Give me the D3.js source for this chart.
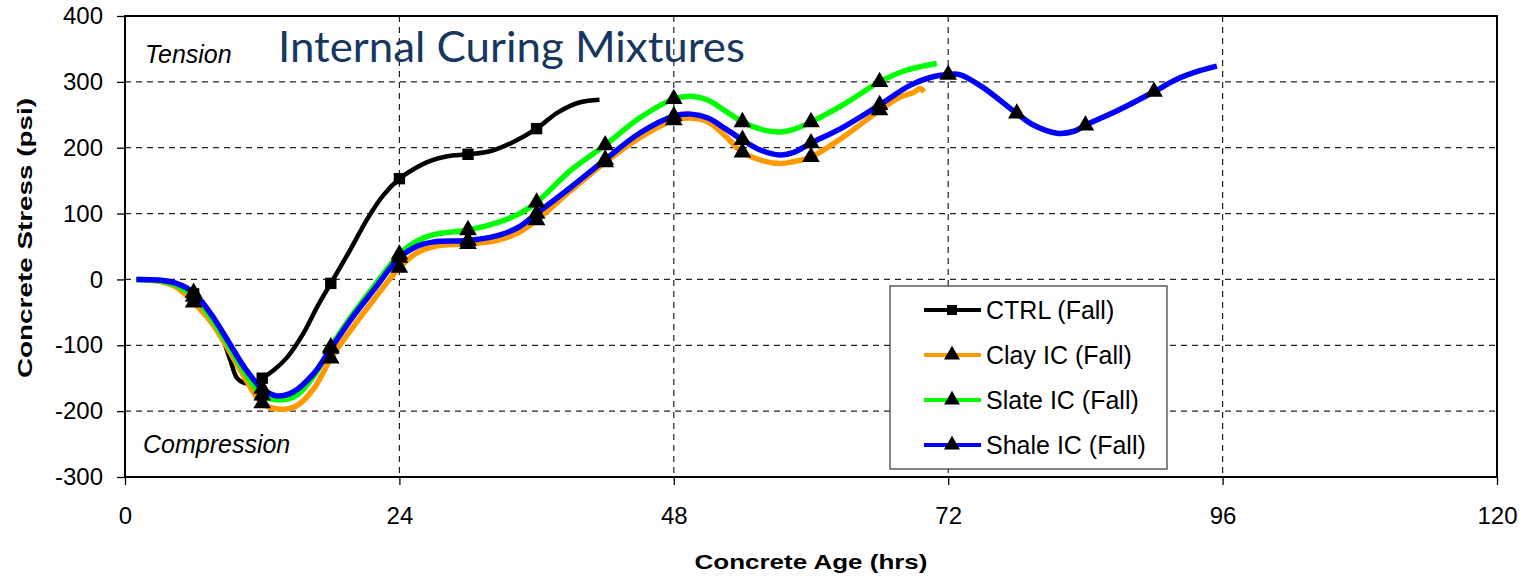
<!DOCTYPE html>
<html>
<head>
<meta charset="utf-8">
<script src="https://cdn.jsdelivr.net/npm/d3@7"></script>
<style>
  html, body { margin: 0; padding: 0; background: #fff; }
  svg { display: block; font-family: Arial, "Liberation Sans", sans-serif; }
</style>
</head>
<body>
<div id="chart"></div>
<script>
// series values: [age (hrs), stress (psi)]
const ctrlFall = [[1,0],[3,-2],[4.5,-8],[6,-22],[7.5,-55],[8.5,-88],[9.2,-122],[9.8,-150],[10.4,-157],[11.2,-157],[12,-150],[13,-138],[14.2,-118],[15.6,-82],[16.8,-42],[18,-6],[19.7,45],[21.2,92],[22.6,128],[24,153],[25.2,167],[26.7,180],[28.2,187],[30,190],[32,195],[34,209],[36,229],[37.8,253],[39.8,269],[41.5,273]];
const clayFall = [[1,0],[3,-3],[4.5,-12],[6,-35],[7.5,-64],[9,-105],[10.5,-150],[12,-188],[13.5,-197],[15,-192],[16.5,-166],[18,-120],[19.7,-78],[21.7,-32],[24,18],[25.5,40],[27,50],[30,54],[32.5,59],[34.5,72],[36,90],[39,135],[42,178],[45,215],[48,242],[49.5,245],[51,239],[52.5,218],[54,193],[55.8,180],[57.3,176],[58.5,179],[60,186],[62.8,216],[66,257],[67.8,277],[69,284],[69.5,290],[69.9,285]];
const slateFall = [[1,0],[3,-2],[4.5,-9],[6,-26],[7.5,-58],[9,-99],[10.5,-142],[12,-176],[13.5,-183],[15,-176],[16.5,-147],[18,-103],[19.7,-58],[21.7,-12],[24,38],[25.5,58],[27,68],[30,75],[32.5,86],[34.5,100],[36,117],[39,166],[42,204],[45,245],[48,274],[49.5,278],[51,272],[52.5,256],[54,239],[55.8,227],[57.3,224],[58.5,228],[60,239],[62.8,265],[66,300],[68.4,318],[71,328]];
const shaleFall = [[1,0],[3,-1],[4.5,-6],[6,-20],[7.5,-52],[9,-93],[10.5,-135],[12,-166],[13.3,-177],[14.7,-171],[16.5,-143],[18,-105],[19.7,-62],[21.7,-17],[24,33],[25.5,50],[27,57],[30,59],[32.5,66],[34.5,80],[36,100],[39,140],[42,182],[45,222],[48,248],[49.5,251],[51,245],[52.5,229],[54,212],[55.5,197],[57.3,189],[58.5,193],[60,207],[62.8,231],[66,265],[68.7,295],[70.5,307],[72,311],[73,311],[75,292],[78,252],[79.5,234],[81.5,222],[83,225],[84,234],[87,258],[90,285],[92,304],[94,317],[95.5,324]];

const seriesNames = ["CTRL (Fall)", "Clay IC (Fall)", "Slate IC (Fall)", "Shale IC (Fall)"];
const seriesColors = ["#000000", "#FF9900", "#00FF00", "#0000FF"];
const seriesData = [ctrlFall, clayFall, slateFall, shaleFall];
const markerHours = [6, 12, 18, 24, 30, 36, 42, 48, 54, 60, 66, 72, 78, 84, 90];

const xTicks = [0, 24, 48, 72, 96, 120];
const yTicks = [-300, -200, -100, 0, 100, 200, 300, 400];

const width = 1530, height = 578;
const margin = {top: 16, right: 33, bottom: 101, left: 125};

const svg = d3.select("#chart").append("svg")
    .attr("width", width)
    .attr("height", height);

const x = d3.scaleLinear().domain([0, 120]).range([margin.left, width - margin.right]);
const y = d3.scaleLinear().domain([-300, 400]).range([height - margin.bottom, margin.top]);

// grille pointillée
svg.append("g")
    .selectAll("line")
    .data(yTicks.filter(d => d > -300 && d < 400))
    .join("line")
    .attr("x1", x(0)).attr("x2", x(120))
    .attr("y1", d => y(d)).attr("y2", d => y(d))
    .attr("stroke", "#222").attr("stroke-width", 1.2)
    .attr("stroke-dasharray", "6,5");

svg.append("g")
    .selectAll("line")
    .data(xTicks.filter(d => d > 0 && d < 120))
    .join("line")
    .attr("x1", d => x(d)).attr("x2", d => x(d))
    .attr("y1", y(400)).attr("y2", y(-300))
    .attr("stroke", "#222").attr("stroke-width", 1.2)
    .attr("stroke-dasharray", "6,5");

// axes (tirets simples pour les négatifs, comme Excel)
const xAxis = svg.append("g")
    .attr("transform", `translate(0,${y(-300)})`)
    .call(d3.axisBottom(x).tickValues(xTicks).tickFormat(d => String(d)).tickSize(8).tickPadding(22));
const yAxis = svg.append("g")
    .attr("transform", `translate(${x(0)},0)`)
    .call(d3.axisLeft(y).tickValues(yTicks).tickFormat(d => String(d)).tickSize(8).tickPadding(14));

[xAxis, yAxis].forEach(g => {
    g.select(".domain").remove();
    g.selectAll(".tick line").attr("stroke", "#000").attr("stroke-width", 1.3);
    g.selectAll(".tick text").attr("font-size", 24).attr("fill", "#000")
        .attr("font-family", "Arial, 'Liberation Sans', sans-serif");
});

// cadre du graphique
svg.append("rect")
    .attr("x", x(0)).attr("y", y(400))
    .attr("width", x(120) - x(0)).attr("height", y(-300) - y(400))
    .attr("fill", "none").attr("stroke", "#000").attr("stroke-width", 2);

// courbes
const line = d3.line()
    .x(d => x(d[0]))
    .y(d => y(d[1]))
    .curve(d3.curveCatmullRom.alpha(0.5));

svg.append("g")
    .selectAll("path")
    .data(seriesData)
    .join("path")
    .attr("d", line)
    .attr("fill", "none")
    .attr("stroke", (d, i) => seriesColors[i])
    .attr("stroke-width", (d, i) => i === 0 ? 4.5 : 5.5)
    .attr("stroke-linejoin", "round");

// marqueurs toutes les 6 heures
const square = d3.symbol().type(d3.symbolSquare).size(130);
const triangle = d3.symbol().type(d3.symbolTriangle).size(135);

seriesData.forEach((data, i) => {
    const pts = data.filter(d => markerHours.includes(d[0]));
    svg.append("g")
        .selectAll("path")
        .data(pts)
        .join("path")
        .attr("transform", d => `translate(${x(d[0])},${y(d[1])})`)
        .attr("d", i === 0 ? square() : triangle())
        .attr("fill", "#000");
});

// textes dans la zone
svg.append("text")
    .attr("x", 145).attr("y", 63)
    .attr("font-size", 25).attr("font-style", "italic")
    .text("Tension");

svg.append("text")
    .attr("x", 143).attr("y", 453)
    .attr("font-size", 25).attr("font-style", "italic")
    .text("Compression");

svg.append("text")
    .attr("x", 278).attr("y", 62)
    .attr("font-family", "Lato, 'Open Sans', sans-serif")
    .attr("font-size", 43)
    .attr("fill", "#17375E")
    .attr("textLength", 467).attr("lengthAdjust", "spacingAndGlyphs")
    .text("Internal Curing Mixtures");

// titres des axes
svg.append("text")
    .attr("x", 811).attr("y", 569)
    .attr("text-anchor", "middle")
    .attr("font-size", 21).attr("font-weight", "bold")
    .attr("textLength", 233).attr("lengthAdjust", "spacingAndGlyphs")
    .text("Concrete Age (hrs)");

svg.append("text")
    .attr("transform", "translate(32,238) rotate(-90)")
    .attr("text-anchor", "middle")
    .attr("font-size", 21).attr("font-weight", "bold")
    .attr("textLength", 280).attr("lengthAdjust", "spacingAndGlyphs")
    .text("Concrete Stress (psi)");

// légende
const legend = svg.append("g").attr("transform", "translate(890,286)");
legend.append("rect")
    .attr("width", 277).attr("height", 183)
    .attr("fill", "#fff").attr("stroke", "#444").attr("stroke-width", 1.3);

const rows = legend.selectAll("g.row")
    .data(seriesNames)
    .join("g")
    .attr("class", "row")
    .attr("transform", (d, i) => `translate(0,${24 + i * 45})`);

rows.append("line")
    .attr("x1", 34).attr("x2", 91)
    .attr("stroke", (d, i) => seriesColors[i])
    .attr("stroke-width", 4);

rows.append("path")
    .attr("transform", "translate(62,0)")
    .attr("d", (d, i) => i === 0 ? d3.symbol().type(d3.symbolSquare).size(100)() : d3.symbol().type(d3.symbolTriangle).size(110)())
    .attr("fill", "#000");

rows.append("text")
    .attr("x", 96).attr("y", 9)
    .attr("font-size", 25)
    .text(d => d);
</script>
</body>
</html>
